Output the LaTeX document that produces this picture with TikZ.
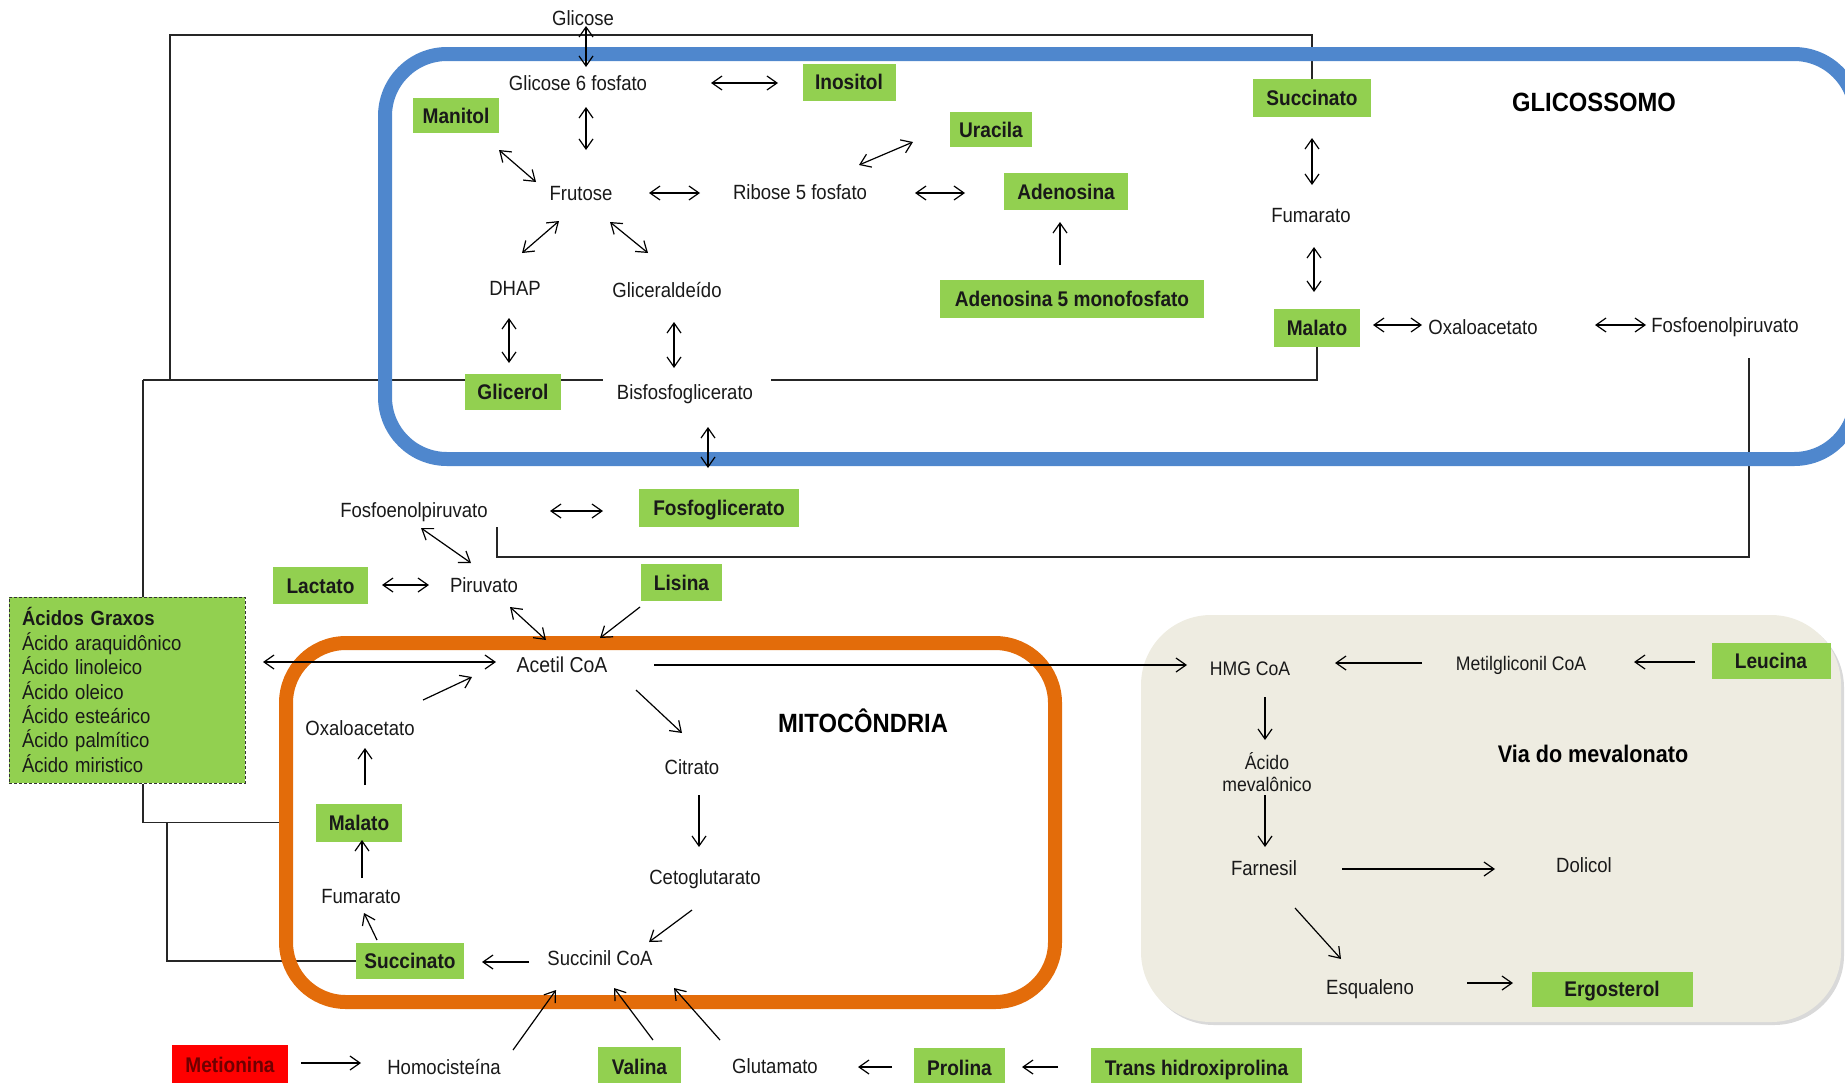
\documentclass[tikz,border=0pt]{standalone}
\usepackage{fontspec}
\setmainfont{Liberation Sans}[FakeStretch=0.9]
\usetikzlibrary{arrows.meta,shadows}
\definecolor{gfill}{RGB}{146,208,80}
\definecolor{bluebox}{RGB}{79,135,205}
\definecolor{orangebox}{RGB}{227,108,10}
\definecolor{mevfill}{RGB}{238,236,225}
\definecolor{txt}{RGB}{25,25,25}
\definecolor{metred}{RGB}{255,0,0}
\definecolor{mettxt}{RGB}{110,0,0}
\pgfdeclarelayer{back}
\pgfsetlayers{back,main}
\begin{document}
\begin{tikzpicture}[x=0.5pt,y=-0.5pt,
  lbl/.style={inner sep=0pt, text=txt, text height=7.4pt, text depth=0pt, font=\fontsize{10.3}{12}\selectfont},
  small/.style={inner sep=0pt, text=txt, text height=7pt, text depth=0pt, font=\fontsize{9.8}{11}\selectfont},
  ttl/.style={inner sep=0pt, text=black, font=\fontsize{13.2}{15}\selectfont\bfseries},
  gbox/.style={fill=gfill, inner sep=0pt, outer sep=0pt, text=txt, text height=7.6pt, text depth=0pt, font=\fontsize{10.6}{12}\selectfont\bfseries},
  arr/.style={line width=0.6pt, -{Straight Barb[length=5pt,width=7pt]}},
  dbl/.style={line width=0.6pt, {Straight Barb[length=5pt,width=7pt]}-{Straight Barb[length=5pt,width=7pt]}},
  conn/.style={line width=0.7pt, black!85},
]
\useasboundingbox (0,0) rectangle (1845,1082);
\clip (0,0) rectangle (1845,1082);

% compartments
\node[draw=bluebox, line width=7pt, rounded corners=31pt, minimum width=735.5pt, minimum height=202.5pt, inner sep=0pt, outer sep=0pt] (glicbox) at (1120.5,256.5) {};
\node[draw=orangebox, line width=7pt, rounded corners=30pt, minimum width=384.5pt, minimum height=179.5pt, inner sep=0pt, outer sep=0pt] (mito) at (670.5,822.5) {};

% glicossomo
\node[lbl] (glicose) at (583,18) {Glicose};
\node[lbl] (g6f) at (578,83) {Glicose 6 fosfato};
\node[gbox, minimum width=46.5pt, minimum height=18.5pt] (inos) at (849,82) {Inositol};
\node[gbox, minimum width=43pt, minimum height=17.5pt] (manit) at (456,115.5) {Manitol};
\node[lbl] (frut) at (581,193) {Frutose};
\node[lbl] (rib) at (800,192) {Ribose 5 fosfato};
\node[gbox, minimum width=41pt, minimum height=17.5pt] (urac) at (991,129.5) {Uracila};
\node[gbox, minimum width=62pt, minimum height=18.5pt] (aden) at (1066,191.5) {Adenosina};
\node[gbox, minimum width=132pt, minimum height=19pt] (amp) at (1072,299) {Adenosina 5 monofosfato};
\node[lbl] (dhap) at (515,288) {DHAP};
\node[lbl] (glal) at (667,290) {Gliceraldeído};
\node[gbox, minimum width=48pt, minimum height=18pt] (glic) at (513,392) {Glicerol};
\node[lbl] (bisf) at (685,392) {Bisfosfoglicerato};
\node[gbox, minimum width=59pt, minimum height=19pt] (succ1) at (1312,98) {Succinato};
\node[lbl] (fum1) at (1311,215) {Fumarato};
\node[gbox, minimum width=43pt, minimum height=19pt] (mal1) at (1317,328) {Malato};
\node[lbl] (oxa1) at (1483,327) {Oxaloacetato};
\node[lbl] (fep1) at (1725,325) {Fosfoenolpiruvato};
\node[ttl] (gtitle) at (1594,102) {GLICOSSOMO};

% cytosol
\node[gbox, minimum width=80pt, minimum height=19pt] (fosfg) at (719,508) {Fosfoglicerato};
\node[lbl] (fep2) at (414,510) {Fosfoenolpiruvato};
\node[lbl] (piru) at (484,585) {Piruvato};
\node[gbox, minimum width=47.5pt, minimum height=18.5pt] (lact) at (320.5,585.5) {Lactato};
\node[gbox, minimum width=40.5pt, minimum height=18.5pt] (lis) at (681.5,582.5) {Lisina};
\node[fill=gfill, draw=black!80, dash pattern=on 1.5pt off 1pt, line width=0.5pt,
      minimum width=118pt, minimum height=93pt, text width=105pt, align=left,
      inner xsep=6.5pt, inner ysep=0pt, text=txt, font=\fontsize{10.3}{12.2}\selectfont] (acid) at (127,690)
  {\textbf{Ácidos Graxos}\\Ácido araquidônico\\Ácido linoleico\\Ácido oleico\\Ácido esteárico\\Ácido palmítico\\Ácido miristico};

% mitocondria
\node[lbl, font=\fontsize{10.8}{12}\selectfont] (acet) at (562,665) {Acetil CoA};
\node[lbl] (oxa2) at (360,728) {Oxaloacetato};
\node[gbox, minimum width=43pt, minimum height=19pt] (mal2) at (359,823) {Malato};
\node[lbl] (fum2) at (361,896) {Fumarato};
\node[gbox, minimum width=54pt, minimum height=18pt] (succ2) at (410,961) {Succinato};
\node[lbl] (succoa) at (600,958) {Succinil CoA};
\node[lbl] (citr) at (692,767) {Citrato};
\node[lbl] (ceto) at (705,877) {Cetoglutarato};
\node[ttl] (mtitle) at (863,721) {MITOCÔNDRIA};

% bottom row
\node[fill=metred, minimum width=58pt, minimum height=20pt, inner sep=0pt, text=mettxt, text height=7.6pt, text depth=0pt, font=\fontsize{10.6}{12}\selectfont\bfseries] (meti) at (230,1065) {Metionina};
\node[lbl] (homo) at (444,1067) {Homocisteína};
\node[gbox, minimum width=41.5pt, minimum height=20pt] (val) at (639.5,1067) {Valina};
\node[lbl] (glut) at (775,1066) {Glutamato};
\node[gbox, minimum width=45.5pt, minimum height=20pt] (prol) at (959.5,1068) {Prolina};
\node[gbox, minimum width=105.5pt, minimum height=20pt] (trans) at (1196.5,1068) {Trans hidroxiprolina};

% mevalonato
\node[small] (hmg) at (1250,668) {HMG CoA};
\node[small] (metil) at (1521,663) {Metilgliconil CoA};
\node[gbox, minimum width=59.5pt, minimum height=18pt] (leuc) at (1771,661) {Leucina};
\node[inner sep=0pt, text=txt, align=center, font=\fontsize{9.8}{10.6}\selectfont] (acmev) at (1267,772) {Ácido\\mevalônico};
\node[lbl] (farn) at (1264,868) {Farnesil};
\node[lbl] (dol) at (1584,865) {Dolicol};
\node[lbl] (esq) at (1370,987) {Esqualeno};
\node[gbox, minimum width=80.5pt, minimum height=17.5pt] (ergo) at (1612,989) {Ergosterol};
\node[inner sep=0pt, text=black, font=\fontsize{12}{14}\selectfont\bfseries] (vtitle) at (1593,754) {Via do mevalonato};

% arrows
\draw[dbl] ([shift={(3,8)}]glicose.center) -- ([shift={(8,-16)}]g6f.center);
\draw[dbl] ([shift={(133,0)}]g6f.center) -- ([shift={(-71,1)}]inos.center);
\draw[dbl] ([shift={(8,24)}]g6f.center) -- ([shift={(5,-43)}]frut.center);
\draw[dbl] ([shift={(43,34.5)}]manit.center) -- ([shift={(-45,-11)}]frut.center);
\draw[dbl] ([shift={(68,0)}]frut.center) -- ([shift={(-100,1)}]rib.center);
\draw[dbl] ([shift={(-22,28)}]frut.center) -- ([shift={(7,-35)}]dhap.center);
\draw[dbl] ([shift={(29,29)}]frut.center) -- ([shift={(-19,-37)}]glal.center);
\draw[dbl] ([shift={(-6,30)}]dhap.center) -- ([shift={(-4,-29)}]glic.center);
\draw[dbl] ([shift={(7,32)}]glal.center) -- ([shift={(-11,-24)}]bisf.center);
\draw[dbl] ([shift={(59,-27)}]rib.center) -- ([shift={(-78,12.5)}]urac.center);
\draw[dbl] ([shift={(115,1)}]rib.center) -- ([shift={(-101,1.5)}]aden.center);
\draw[arr] ([shift={(-12,-34)}]amp.center) -- ([shift={(-6,30.5)}]aden.center);
\draw[dbl] ([shift={(0,40)}]succ1.center) -- ([shift={(1,-30)}]fum1.center);
\draw[dbl] ([shift={(3,32)}]fum1.center) -- ([shift={(-3,-36)}]mal1.center);
\draw[dbl] ([shift={(56,-3)}]mal1.center) -- ([shift={(-61,-2)}]oxa1.center);
\draw[dbl] ([shift={(112,-2)}]oxa1.center) -- ([shift={(-79,0)}]fep1.center);
\draw[dbl] ([shift={(23,35)}]bisf.center) -- ([shift={(-11,-40)}]fosfg.center);
\draw[dbl] ([shift={(136,1)}]fep2.center) -- ([shift={(-116,3)}]fosfg.center);
\draw[dbl] ([shift={(7,18)}]fep2.center) -- ([shift={(-13,-22)}]piru.center);
\draw[dbl] ([shift={(61.5,-0.5)}]lact.center) -- ([shift={(-55,0)}]piru.center);
\draw[dbl] ([shift={(26,22)}]piru.center) -- ([shift={(-16,-25)}]acet.center);
\draw[arr] ([shift={(-41.5,24.5)}]lis.center) -- ([shift={(38,-27)}]acet.center);
\draw[dbl] ([shift={(136,-28)}]acid.center) -- ([shift={(-66,-3)}]acet.center);
\draw[arr] ([shift={(63,-28)}]oxa2.center) -- ([shift={(-90,12)}]acet.center);
\draw[arr] ([shift={(74,25)}]acet.center) -- ([shift={(-10,-34)}]citr.center);
\draw[arr] ([shift={(92,0)}]acet.center) -- ([shift={(-63,-3)}]hmg.center);
\draw[arr] ([shift={(7,28)}]citr.center) -- ([shift={(-6,-30)}]ceto.center);
\draw[arr] ([shift={(-13,33)}]ceto.center) -- ([shift={(49,-16)}]succoa.center);
\draw[arr] ([shift={(-71,4)}]succoa.center) -- ([shift={(72,1)}]succ2.center);
\draw[arr] ([shift={(-33,-21)}]succ2.center) -- ([shift={(3,17)}]fum2.center);
\draw[arr] ([shift={(1,-18)}]fum2.center) -- ([shift={(3,17)}]mal2.center);
\draw[arr] ([shift={(6,-38)}]mal2.center) -- ([shift={(5,20)}]oxa2.center);
\draw[arr] ([shift={(71,-2)}]meti.center) -- ([shift={(-83,-4)}]homo.center);
\draw[arr] ([shift={(69,-17)}]homo.center) -- ([shift={(-44,32)}]succoa.center);
\draw[arr] ([shift={(13.5,-27)}]val.center) -- ([shift={(14,30)}]succoa.center);
\draw[arr] ([shift={(-55,-26)}]glut.center) -- ([shift={(74,30)}]succoa.center);
\draw[arr] ([shift={(-67.5,-1)}]prol.center) -- ([shift={(83,1)}]glut.center);
\draw[arr] ([shift={(-138.5,-1)}]trans.center) -- ([shift={(62.5,-1)}]prol.center);
\draw[arr] ([shift={(-99,0)}]metil.center) -- ([shift={(85,-5)}]hmg.center);
\draw[arr] ([shift={(-76,1)}]leuc.center) -- ([shift={(113,-1)}]metil.center);
\draw[arr] ([shift={(15,29)}]hmg.center) -- ([shift={(-2,-32)}]acmev.center);
\draw[arr] ([shift={(-2,23)}]acmev.center) -- ([shift={(1,-21)}]farn.center);
\draw[arr] ([shift={(78,1)}]farn.center) -- ([shift={(-89,4)}]dol.center);
\draw[arr] ([shift={(31,40)}]farn.center) -- ([shift={(-29,-28)}]esq.center);
\draw[arr] ([shift={(97,-4)}]esq.center) -- ([shift={(-99,-6)}]ergo.center);

% background: mevalonato box and plain connector lines
\begin{pgfonlayer}{back}
\node[fill=mevfill, rounded corners=35pt, minimum width=350pt, minimum height=203.5pt, inner sep=0pt,
      drop shadow={opacity=0.3, shadow xshift=1.5pt, shadow yshift=-1.5pt}] (mevbox) at (1491,818.5) {};
\coordinate (tl) at (170,35);
\coordinate (tj) at (170,380);
\coordinate (jl) at (143,380);
\coordinate (jb) at (167,822.5);
\draw[conn] (succ1.north) |- (tl) -- (tj);
\draw[conn] (jl) -- ([shift={(-82,-12)}]bisf.center);
\draw[conn] (jl) -- (jl |- acid.north);
\draw[conn] ([shift={(86,-12)}]bisf.center) -| (mal1.south);
\draw[conn] ([shift={(24,33)}]fep1.center) |- ([shift={(83,47)}]fep2.center) -- ([shift={(83,17)}]fep2.center);
\draw[conn] (jl |- acid.south) |- (mito.west);
\draw[conn] (jb) |- (succ2.west);
\end{pgfonlayer}
\end{tikzpicture}
\end{document}
